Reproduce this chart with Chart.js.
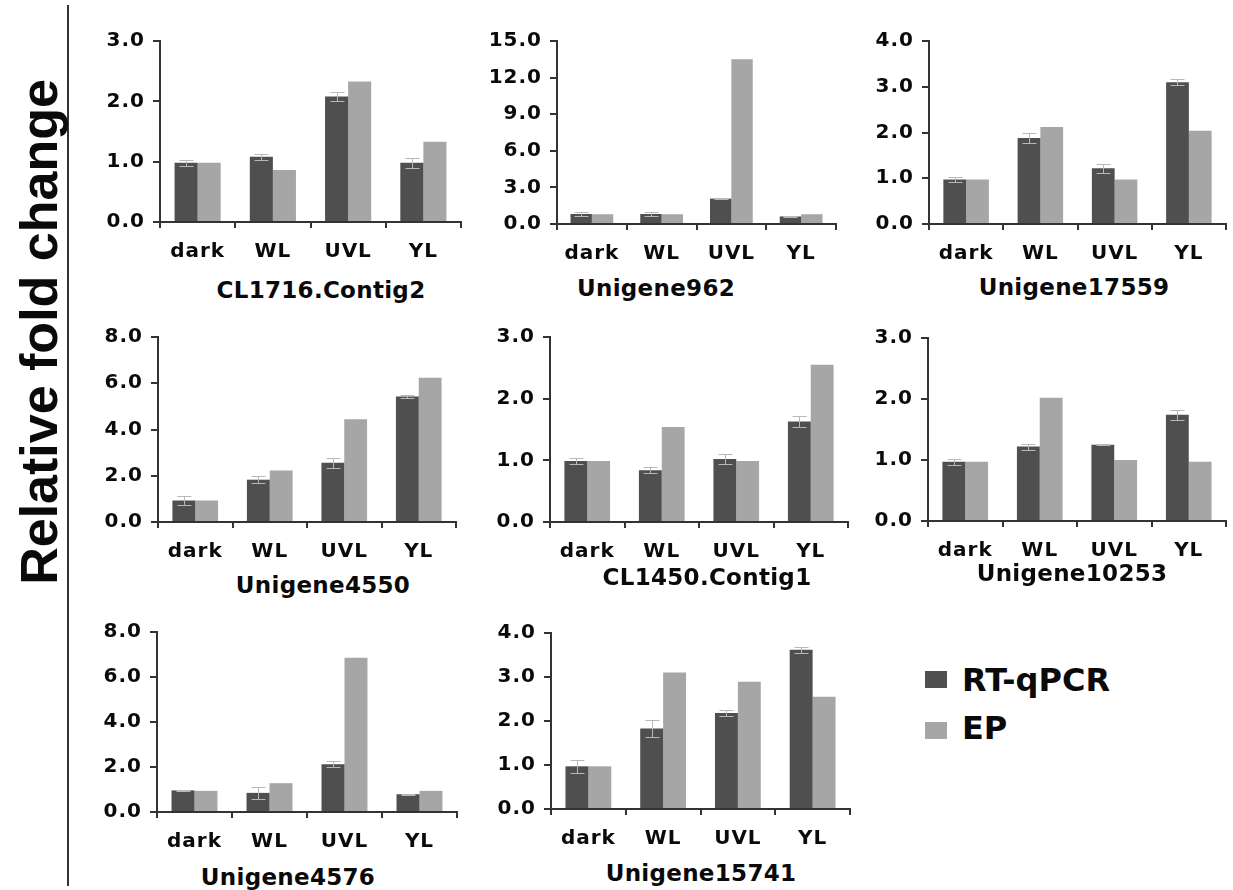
<!DOCTYPE html>
<html>
<head>
<meta charset="utf-8">
<script src="https://cdn.jsdelivr.net/npm/chart.js@4.4.1/dist/chart.umd.min.js"></script>
<style>
  html, body { margin: 0; padding: 0; background: #ffffff; }
  body { width: 1233px; height: 890px; position: relative; overflow: hidden; font-family: "DejaVu Sans", Verdana, sans-serif; color: #111; }
  canvas.panel { position: absolute; }
  .sub { position: absolute; font: bold 23px "DejaVu Sans", Verdana, sans-serif; letter-spacing: 0.3px; transform: translate(-50%, -50%); white-space: nowrap; color: #0a0a0a; }
  #ylab { position: absolute; left: 39px; top: 332px; transform: translate(-50%, -50%) rotate(-90deg); font: bold 52px "Liberation Sans", Arial, sans-serif; white-space: nowrap; color: #0a0a0a; }
  #vline { position: absolute; left: 67px; top: 5px; width: 2px; height: 881px; background: #333; }
  .legBox { position: absolute; left: 925px; width: 22px; height: 17px; }
  .legText { position: absolute; left: 962px; font: bold 32px "DejaVu Sans", Verdana, sans-serif; color: #0a0a0a; white-space: nowrap; line-height: 32px; }
</style>
</head>
<body>
<script>
// ---------------- DATA ----------------
const categories = ['dark', 'WL', 'UVL', 'YL'];
const seriesNames = ['RT-qPCR', 'EP'];
const geneNames = ['CL1716.Contig2', 'Unigene962', 'Unigene17559', 'Unigene4550',
                   'CL1450.Contig1', 'Unigene10253', 'Unigene4576', 'Unigene15741'];

const rtCL1716 = [0.98, 1.08, 2.08, 0.98];
const epCL1716 = [0.98, 0.86, 2.33, 1.33];
const errCL1716 = [0.05, 0.05, 0.07, 0.08];

const rtU962 = [0.82, 0.82, 2.08, 0.62];
const epU962 = [0.80, 0.80, 13.5, 0.80];
const errU962 = [0.20, 0.20, 0.05, 0.05];

const rtU17559 = [0.97, 1.88, 1.22, 3.10];
const epU17559 = [0.97, 2.12, 0.97, 2.04];
const errU17559 = [0.05, 0.10, 0.10, 0.07];

const rtU4550 = [0.93, 1.83, 2.56, 5.43];
const epU4550 = [0.93, 2.23, 4.44, 6.24];
const errU4550 = [0.20, 0.14, 0.22, 0.08];

const rtCL1450 = [0.99, 0.84, 1.02, 1.63];
const epCL1450 = [0.99, 1.54, 0.99, 2.55];
const errCL1450 = [0.05, 0.05, 0.08, 0.09];

const rtU10253 = [0.97, 1.22, 1.25, 1.74];
const epU10253 = [0.97, 2.02, 1.00, 0.97];
const errU10253 = [0.05, 0.05, 0.01, 0.08];

const rtU4576 = [0.96, 0.85, 2.12, 0.79];
const epU4576 = [0.94, 1.28, 6.86, 0.94];
const errU4576 = [0.04, 0.25, 0.13, 0.03];

const rtU15741 = [0.97, 1.83, 2.18, 3.62];
const epU15741 = [0.97, 3.10, 2.89, 2.55];
const errU15741 = [0.15, 0.20, 0.07, 0.07];

const yMaxes = [3, 15, 4, 8, 3, 3, 8, 4];
const ySteps = [1, 3, 1, 2, 1, 1, 2, 1];

const rtSeries = [rtCL1716, rtU962, rtU17559, rtU4550, rtCL1450, rtU10253, rtU4576, rtU15741];
const epSeries = [epCL1716, epU962, epU17559, epU4550, epCL1450, epU10253, epU4576, epU15741];
const errSeries = [errCL1716, errU962, errU17559, errU4550, errCL1450, errU10253, errU4576, errU15741];

// ---------------- LAYOUT (pixels) ----------------
const panelGeom = [
  { ax: 160, top: 35,  zero: 222, right: 461,  tx: 321,  ty: 290 },
  { ax: 557, top: 35,  zero: 224, right: 836,  tx: 656,  ty: 288 },
  { ax: 929, top: 35,  zero: 224, right: 1226, tx: 1074, ty: 287 },
  { ax: 158, top: 331, zero: 522, right: 456,  tx: 323,  ty: 585 },
  { ax: 550, top: 331, zero: 522, right: 848,  tx: 707,  ty: 577 },
  { ax: 928, top: 332, zero: 521, right: 1226, tx: 1072, ty: 573 },
  { ax: 157, top: 626, zero: 812, right: 457,  tx: 288,  ty: 877 },
  { ax: 551, top: 627, zero: 809, right: 850,  tx: 701,  ty: 873 }
];
const YW = 75, PT = 14, PR = 4, XH = 50;
const darkColor = '#4f4f4f', lightColor = '#a6a6a6', axisColor = '#333333';
const tickFont = { family: "'DejaVu Sans', Verdana, sans-serif", size: 20, weight: 'bold' };

Chart.defaults.font.family = "'DejaVu Sans', Verdana, sans-serif";
Chart.defaults.color = '#0a0a0a';

const spacingPlugin = {
  id: 'spacing',
  beforeUpdate(chart) { try { chart.ctx.letterSpacing = '1px'; } catch (e) {} },
  beforeDraw(chart) { try { chart.ctx.letterSpacing = '1px'; } catch (e) {} }
};

const errorBarPlugin = {
  id: 'errorBars',
  afterDatasetsDraw(chart, args, opts) {
    const errs = opts.errors;
    if (!errs) return;
    const meta = chart.getDatasetMeta(0);
    const ys = chart.scales.y;
    const vals = chart.data.datasets[0].data;
    const ctx = chart.ctx;
    ctx.save();
    ctx.strokeStyle = '#b8b8b8';
    ctx.lineWidth = 1;
    meta.data.forEach((bar, i) => {
      const e = errs[i];
      if (!e) return;
      const x = Math.round(bar.x) + 0.5;
      const yT = Math.round(ys.getPixelForValue(vals[i] + e)) + 0.5;
      const yB = Math.round(ys.getPixelForValue(vals[i] - e)) + 0.5;
      ctx.beginPath();
      ctx.moveTo(x, yT); ctx.lineTo(x, yB);
      ctx.moveTo(x - 7, yT); ctx.lineTo(x + 7, yT);
      ctx.moveTo(x - 7, yB); ctx.lineTo(x + 7, yB);
      ctx.stroke();
    });
    ctx.restore();
  }
};

panelGeom.forEach((g, i) => {
  const cv = document.createElement('canvas');
  cv.className = 'panel';
  const w = g.right - g.ax + YW + PR;
  const h = g.zero - g.top + PT + XH;
  cv.width = w; cv.height = h;
  cv.style.left = (g.ax - YW) + 'px';
  cv.style.top = (g.top - PT) + 'px';
  cv.style.width = w + 'px';
  cv.style.height = h + 'px';
  document.body.appendChild(cv);

  const sub = document.createElement('div');
  sub.className = 'sub';
  sub.textContent = geneNames[i];
  sub.style.left = g.tx + 'px';
  sub.style.top = g.ty + 'px';
  document.body.appendChild(sub);

  new Chart(cv, {
    type: 'bar',
    data: {
      labels: categories,
      datasets: [
        { label: seriesNames[0], data: rtSeries[i], backgroundColor: darkColor, borderWidth: 0,
          categoryPercentage: 0.613, barPercentage: 1.0 },
        { label: seriesNames[1], data: epSeries[i], backgroundColor: lightColor, borderWidth: 0,
          categoryPercentage: 0.613, barPercentage: 1.0 }
      ]
    },
    options: {
      responsive: false,
      animation: false,
      devicePixelRatio: 1,
      layout: { padding: { top: PT, right: PR, left: 0, bottom: 0 } },
      plugins: {
        legend: { display: false },
        tooltip: { enabled: false },
        errorBars: { errors: errSeries[i] }
      },
      scales: {
        x: {
          grid: { offset: true, drawOnChartArea: false, tickLength: 6, color: axisColor, lineWidth: 2 },
          border: { display: true, color: axisColor, width: 2 },
          ticks: { font: tickFont, color: '#0a0a0a', padding: 12, maxRotation: 0, autoSkip: false },
          afterFit: s => { s.height = XH; }
        },
        y: {
          min: 0, max: yMaxes[i],
          grid: { drawOnChartArea: false, tickLength: 7, color: axisColor, lineWidth: 2 },
          border: { display: true, color: axisColor, width: 2 },
          ticks: { stepSize: ySteps[i], font: tickFont, color: '#0a0a0a', padding: 8,
                   callback: v => Number(v).toFixed(1) },
          afterFit: s => { s.width = YW; }
        }
      }
    },
    plugins: [spacingPlugin, errorBarPlugin]
  });
});
</script>
<div id="vline"></div>
<div id="ylab">Relative fold change</div>
<div class="legBox" style="top:671px;background:#4f4f4f"></div>
<div class="legBox" style="top:722px;background:#a6a6a6"></div>
<div class="legText" style="top:664px">RT-qPCR</div>
<div class="legText" style="top:712px">EP</div>
</body>
</html>
